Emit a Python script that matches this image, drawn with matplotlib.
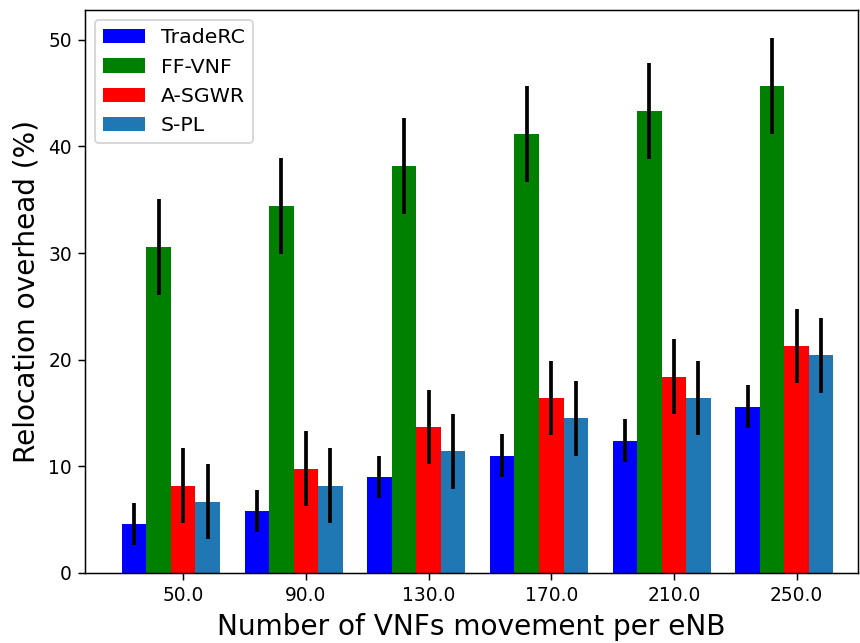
import numpy as np
import matplotlib
matplotlib.use("Agg")
import matplotlib.pyplot as plt

movements = [50.0, 90.0, 130.0, 170.0, 210.0, 250.0]
labels = ["TradeRC", "FF-VNF", "A-SGWR", "S-PL"]
colors = ["blue", "green", "red", "tab:blue"]

traderc = [4.6, 5.8, 9.0, 11.0, 12.4, 15.6]
ffvnf = [30.6, 34.4, 38.2, 41.2, 43.3, 45.7]
asgwr = [8.2, 9.8, 13.7, 16.4, 18.4, 21.3]
spl = [6.7, 8.2, 11.4, 14.5, 16.4, 20.4]

traderc_err = [2.0, 2.0, 2.0, 2.0, 2.0, 2.0]
ffvnf_err = [4.5, 4.5, 4.5, 4.5, 4.5, 4.5]
asgwr_err = [3.5, 3.5, 3.5, 3.5, 3.5, 3.5]
spl_err = [3.5, 3.5, 3.5, 3.5, 3.5, 3.5]

values = [traderc, ffvnf, asgwr, spl]
errors = [traderc_err, ffvnf_err, asgwr_err, spl_err]

DPI = 860 / 6.4
fig = plt.figure(figsize=(6.4, 643 / DPI), dpi=DPI)
ax = fig.add_axes([85/860, 70/643, 773/860, 563/643])

x = np.arange(len(movements))
w = 0.2
for k in range(4):
    ax.bar(x + (k - 2) * w, values[k], w, color=colors[k], label=labels[k],
           yerr=errors[k], error_kw=dict(ecolor='black', elinewidth=2, capsize=0))

ax.set_xticks(x)
ax.set_xticklabels([str(m) for m in movements])
ax.set_xlim(-0.8, 5.5)
ax.set_ylim(0, 52.8)
ax.set_xlabel('Number of VNFs movement per eNB', fontsize=15)
ax.set_ylabel('Relocation overhead (%)', fontsize=15)
ax.legend(loc='upper left', fontsize=11)
plt.savefig('out.png', dpi=DPI)
